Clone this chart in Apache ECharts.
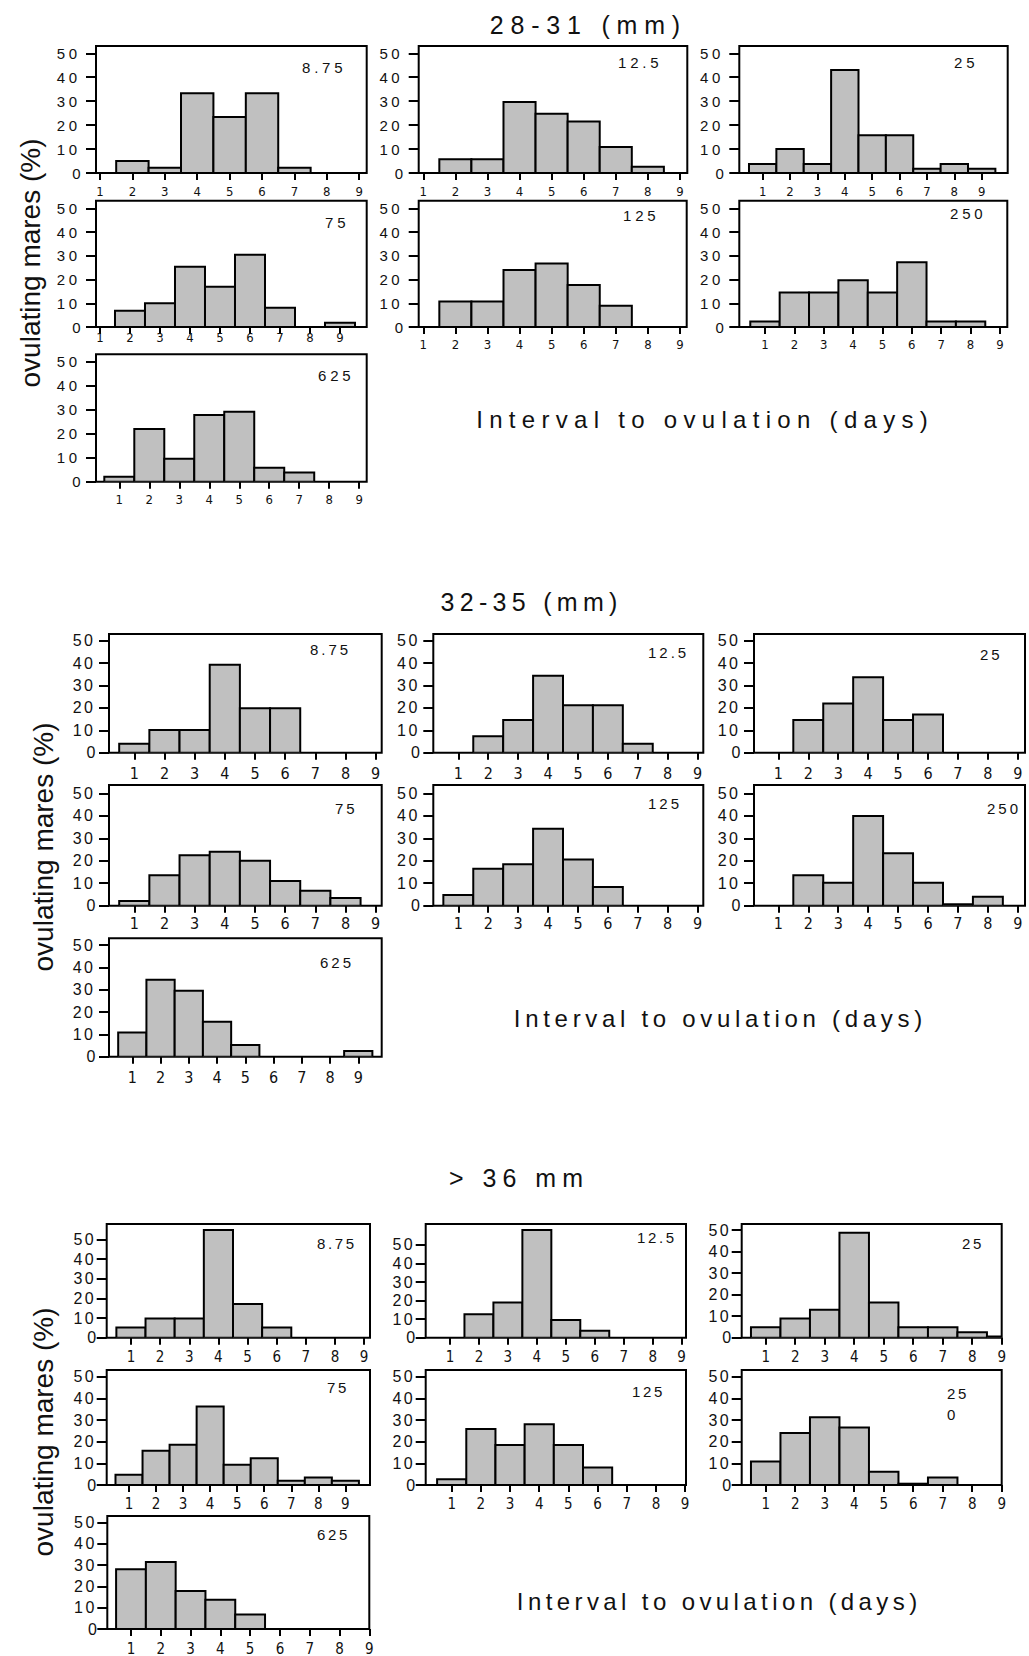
<!DOCTYPE html>
<html>
<head>
<meta charset="utf-8">
<script src="https://cdn.jsdelivr.net/npm/echarts@6/dist/echarts.min.js"></script>
<style>
html,body{margin:0;padding:0;background:#fff;}
#chart{width:1029px;height:1656px;}
</style>
</head>
<body>
<div id="chart"></div>
<script>
// ---------- data ----------
const days = [1, 2, 3, 4, 5, 6, 7, 8, 9];
const yTickValues = [0, 10, 20, 30, 40, 50];
const doses = ['8.75', '12.5', '25', '75', '125', '250', '625'];
const groupTitles = ['28-31 (mm)', '32-35 (mm)', '> 36 mm'];
const xAxisTitle = 'Interval to ovulation (days)';
const yAxisTitle = 'ovulating mares (%)';

// follicle 28-31 mm
const f28_8_75 = [0, 5, 2.2, 33.3, 23.4, 33.3, 2.2, 0, 0];
const f28_12_5 = [0, 5.7, 5.7, 29.7, 24.7, 21.5, 10.9, 2.6, 0];
const f28_25   = [3.8, 10, 3.8, 43, 15.8, 15.8, 1.8, 3.8, 1.8];
const f28_75   = [0, 6.8, 10, 25.4, 17, 30.4, 8.1, 0, 1.8];
const f28_125  = [0, 10.7, 10.7, 24, 26.7, 17.7, 8.9, 0, 0];
const f28_250  = [2.3, 14.5, 14.5, 19.7, 14.5, 27.3, 2.3, 2.3, 0];
const f28_625  = [2.1, 22, 9.6, 27.8, 29.2, 5.8, 3.8, 0, 0];
// follicle 32-35 mm
const f32_8_75 = [4, 10.1, 10.1, 39.3, 19.8, 19.8, 0, 0, 0];
const f32_12_5 = [0, 7.4, 14.6, 34.4, 21.2, 21.2, 4, 0, 0];
const f32_25   = [0, 14.6, 22, 33.7, 14.6, 17.1, 0, 0, 0];
const f32_75   = [2.1, 13.6, 22.5, 24, 20, 11, 6.7, 3.4, 0];
const f32_125  = [4.8, 16.4, 18.4, 34.2, 20.6, 8.3, 0, 0, 0];
const f32_250  = [0, 13.6, 10.2, 39.9, 23.3, 10.2, 0.7, 4, 0];
const f32_625  = [10.8, 34.4, 29.5, 15.6, 5.2, 0, 0, 0, 2.6];
// follicle > 36 mm
const f36_8_75 = [5.2, 9.8, 9.8, 54.8, 17.1, 5.2, 0, 0, 0];
const f36_12_5 = [0, 12.7, 19, 58, 9.5, 3.8, 0, 0, 0];
const f36_25   = [4.8, 8.9, 13, 48.7, 16.3, 4.8, 4.8, 2.5, 0.6];
const f36_75   = [4.7, 15.8, 18.6, 36.2, 9.4, 12.4, 2, 3.5, 2];
const f36_125  = [2.6, 25.8, 18.5, 28, 18.5, 8.1, 0, 0, 0];
const f36_250  = [10.9, 24, 31.3, 26.6, 6.1, 0.6, 3.5, 0, 0];
const f36_625  = [28.1, 31.5, 17.9, 13.8, 6.8, 0, 0, 0, 0];

const groupSeries = [
  [f28_8_75, f28_12_5, f28_25, f28_75, f28_125, f28_250, f28_625],
  [f32_8_75, f32_12_5, f32_25, f32_75, f32_125, f32_250, f32_625],
  [f36_8_75, f36_12_5, f36_25, f36_75, f36_125, f36_250, f36_625]
];
// the 250 panel of the last group prints its label on two lines
const doseText = [doses, doses, ['8.75', '12.5', '25', '75', '125', '25\n0', '625']];

// ---------- layout ----------
const layout = [
  { title: [585, 25, 25], interval: [702, 419, 24], ytitle: [30, 263],
    yFont: 15, yMargin: 17, xFont: 13, labFont: 15,
    panels: [
      { box: [96, 46, 366.7, 173], xr: [0.877, 9.23], ymax: 53.05, lab: [302, 67], xm: 12 },
      { box: [418.7, 46, 687.3, 173], xr: [0.857, 9.23], ymax: 53.05, lab: [618, 62], xm: 12 },
      { box: [739.3, 46, 1007.7, 173], xr: [0.146, 9.95], ymax: 53.05, lab: [954, 62], xm: 12 },
      { box: [96, 200.7, 366.7, 327], xr: [0.867, 9.89], ymax: 53.2, lab: [325, 222], xm: 3.5 },
      { box: [418.7, 200.7, 686.7, 327], xr: [0.857, 9.21], ymax: 53.2, lab: [623, 215], xm: 10.5 },
      { box: [739.3, 200.7, 1007.3, 327], xr: [0.126, 9.25], ymax: 53.2, lab: [950, 213], xm: 10.5 },
      { box: [96, 354.3, 366.7, 481.7], xr: [0.223, 9.25], ymax: 53.1, lab: [318, 375], xm: 11 }
    ] },
  { title: [529, 602, 25], interval: [718, 1018, 24], ytitle: [43, 847],
    yFont: 16, yMargin: 14, xFont: 16, labFont: 15,
    panels: [
      { box: [109, 634, 381.7, 752.7], xr: [0.162, 9.2], ymax: 53, lab: [310, 649], xm: 12.5 },
      { box: [433.3, 634, 703.3, 752.7], xr: [0.164, 9.19], ymax: 53, lab: [648, 652], xm: 12.5 },
      { box: [754, 634, 1025, 752.7], xr: [0.187, 9.24], ymax: 53, lab: [980, 654], xm: 12.5 },
      { box: [109, 785, 381.7, 905.7], xr: [0.162, 9.2], ymax: 53.7, lab: [335, 808], xm: 9.5 },
      { box: [433.3, 785, 703.3, 905.7], xr: [0.164, 9.19], ymax: 53.7, lab: [648, 803], xm: 9.5 },
      { box: [754, 785, 1025, 905.7], xr: [0.187, 9.24], ymax: 53.7, lab: [987, 808], xm: 9.5 },
      { box: [109, 938.3, 381.7, 1056.7], xr: [0.175, 9.83], ymax: 53, lab: [320, 962], xm: 13 }
    ] },
  { title: [516, 1178, 25], interval: [717, 1601, 24], ytitle: [43, 1432],
    yFont: 16, yMargin: 11, xFont: 15, labFont: 15,
    panels: [
      { box: [106.7, 1224, 370, 1337.7], xr: [0.168, 9.2], ymax: 57.8, lab: [317, 1243], xm: 11.5 },
      { box: [425.7, 1224, 686, 1337.7], xr: [0.162, 9.15], ymax: 61.3, lab: [637, 1237], xm: 11.5 },
      { box: [741.7, 1224, 1001.7, 1337.7], xr: [0.186, 9.0], ymax: 52.8, lab: [962, 1243], xm: 11.5 },
      { box: [106.7, 1370, 370, 1485], xr: [0.175, 9.91], ymax: 53.1, lab: [327, 1387], xm: 11 },
      { box: [425.7, 1370, 686, 1485], xr: [0.109, 9.03], ymax: 53.1, lab: [632, 1391], xm: 11 },
      { box: [741.7, 1370, 1001.7, 1485], xr: [0.186, 9.0], ymax: 53.1, lab: [947, 1393], xm: 11 },
      { box: [107.3, 1516, 369.3, 1630.7], xr: [0.205, 9.0], ymax: 53.1, lab: [317, 1534], xm: 12 }
    ] }
];
// letter spacing (px) per group: titles, interval caption, panel labels, y tick labels
const spacing = {
  title: [6.8, 5.3, 6], interval: [6.3, 4.7, 4.4], dose: [3.8, 3, 2.6], ytick: [3.5, 2.5, 2.5]
};

const SANS = '"Liberation Sans", Arial, Helvetica, sans-serif';
const NARROW = '"Liberation Sans Narrow", "Arial Narrow", "DejaVu Sans Condensed", sans-serif';
const INK = '#111';

const grids = [], xAxes = [], yAxes = [], series = [], graphics = [];

layout.forEach((g, gi) => {
  g.panels.forEach((p, pi) => {
    const idx = grids.length;
    grids.push({
      left: p.box[0], top: p.box[1],
      width: p.box[2] - p.box[0], height: p.box[3] - p.box[1],
      show: true, borderColor: '#000', borderWidth: 2, backgroundColor: 'transparent',
      containLabel: false
    });
    xAxes.push({
      type: 'value', gridIndex: idx, min: p.xr[0], max: p.xr[1],
      axisLine: { show: false }, splitLine: { show: false },
      axisTick: { show: true, inside: false, length: 7, customValues: days,
                  lineStyle: { color: '#000', width: 2 } },
      axisLabel: { customValues: days, margin: p.xm, fontSize: g.xFont,
                   fontFamily: NARROW, color: INK }
    });
    yAxes.push({
      type: 'value', gridIndex: idx, min: 0, max: p.ymax,
      axisLine: { show: false }, splitLine: { show: false },
      axisTick: { show: true, inside: false, length: 10, customValues: yTickValues,
                  lineStyle: { color: '#000', width: 2 } },
      axisLabel: { customValues: yTickValues, margin: g.yMargin - spacing.ytick[gi] + 2, fontSize: g.yFont,
                   fontFamily: SANS, color: INK }
    });
    const vals = groupSeries[gi][pi];
    series.push({
      type: 'custom', xAxisIndex: idx, yAxisIndex: idx, clip: true,
      data: vals.map((v, i) => [days[i], v]),
      renderItem: function (params, api) {
        const x = api.value(0), v = api.value(1);
        if (!v) return null;
        const a = api.coord([x - 0.5, v]);
        const b = api.coord([x + 0.5, 0]);
        return {
          type: 'rect',
          shape: { x: a[0], y: a[1], width: b[0] - a[0], height: b[1] - a[1] },
          style: { fill: '#c0c0c0', stroke: '#000', lineWidth: 2 }
        };
      }
    });
    graphics.push({
      type: 'text', x: p.lab[0], y: p.lab[1] - 10.75,
      style: { text: doseText[gi][pi], fontSize: g.labFont, fontFamily: SANS, fill: INK,
               lineHeight: 21.5, align: 'left', verticalAlign: 'top',
               textAlign: 'left', textVerticalAlign: 'top' }
    });
  });
  graphics.push({
    type: 'text', x: g.title[0] + spacing.title[gi] / 2, y: g.title[1],
    style: { text: groupTitles[gi], fontSize: g.title[2], fontFamily: SANS, fill: INK,
             align: 'center', verticalAlign: 'middle', textAlign: 'center', textVerticalAlign: 'middle' }
  });
  graphics.push({
    type: 'text', x: g.interval[0] + spacing.interval[gi] / 2, y: g.interval[1],
    style: { text: xAxisTitle, fontSize: g.interval[2], fontFamily: SANS, fill: INK,
             align: 'center', verticalAlign: 'middle', textAlign: 'center', textVerticalAlign: 'middle' }
  });
  graphics.push({
    type: 'text', x: g.ytitle[0], y: g.ytitle[1], rotation: Math.PI / 2,
    style: { text: yAxisTitle, fontSize: 28, fontFamily: SANS, fill: INK,
             align: 'center', verticalAlign: 'middle', textAlign: 'center', textVerticalAlign: 'middle' }
  });
});

const chart = echarts.init(document.getElementById('chart'), null, { renderer: 'svg', width: 1029, height: 1656 });
chart.setOption({
  animation: false,
  backgroundColor: '#fff',
  grid: grids, xAxis: xAxes, yAxis: yAxes, series: series,
  graphic: { elements: graphics }
});

// emulate the wide tracking of the printed figure
function applySpacing() {
  const dom = chart.getDom();
  const top0 = dom.getBoundingClientRect().top;
  const texts = dom.querySelectorAll('text');
  const ytickSet = new Set(yTickValues.filter(v => v >= 10).map(String));
  const doseSet = new Set(['8.75', '12.5', '25', '75', '125', '250', '625']);
  texts.forEach(t => {
    const s = t.textContent;
    const r = t.getBoundingClientRect();
    const y = r.top - top0 + r.height / 2;
    const gi = y < 540 ? 0 : (y < 1120 ? 1 : 2);
    let ls = 0;
    if (groupTitles.indexOf(s) >= 0) ls = spacing.title[gi];
    else if (s === xAxisTitle) ls = spacing.interval[gi];
    else if (doseSet.has(s) && t.getAttribute('text-anchor') !== 'end') ls = spacing.dose[gi];
    else if (ytickSet.has(s)) ls = spacing.ytick[gi];
    if (ls) t.style.letterSpacing = ls + 'px';
  });
}
applySpacing();
</script>
</body>
</html>
